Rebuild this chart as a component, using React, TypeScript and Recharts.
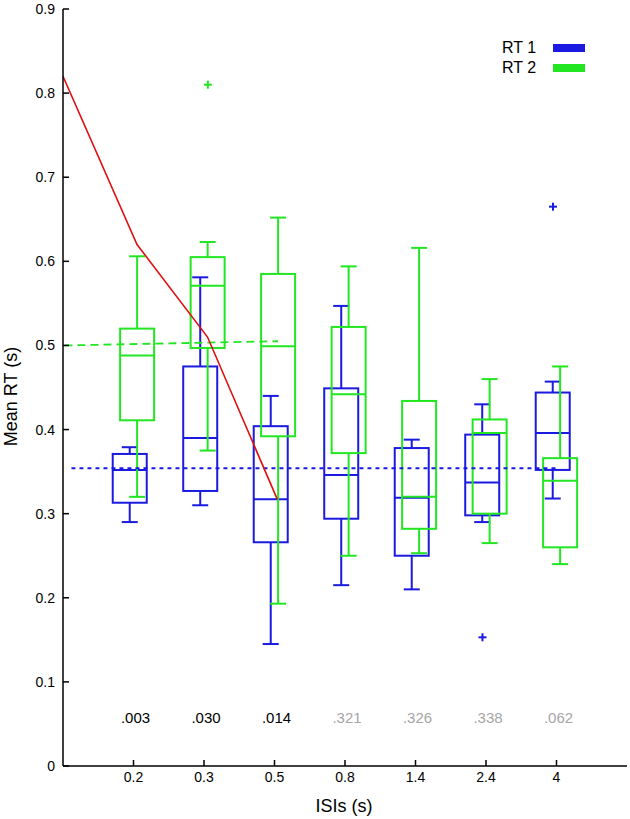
import React from "react";
import {
  ComposedChart,
  Bar,
  Line,
  Scatter,
  XAxis,
  YAxis,
  Legend,
  ReferenceLine,
} from "recharts";

// categories
const isiLabels = ["0.2", "0.3", "0.5", "0.8", "1.4", "2.4", "4"];
const positions = [1, 2, 3, 4, 5, 6, 7];
const yTicks = [0, 0.1, 0.2, 0.3, 0.4, 0.5, 0.6, 0.7, 0.8, 0.9];
const seriesNames = ["RT 1", "RT 2"];

// RT 1 boxes
const rt1Min = [0.29, 0.31, 0.145, 0.215, 0.21, 0.29, 0.318];
const rt1Q1 = [0.313, 0.327, 0.266, 0.294, 0.25, 0.298, 0.352];
const rt1Median = [0.352, 0.39, 0.317, 0.346, 0.319, 0.337, 0.396];
const rt1Q3 = [0.371, 0.475, 0.404, 0.449, 0.378, 0.394, 0.444];
const rt1Max = [0.379, 0.581, 0.44, 0.547, 0.388, 0.43, 0.457];

// RT 2 boxes
const rt2Min = [0.32, 0.375, 0.193, 0.25, 0.253, 0.265, 0.24];
const rt2Q1 = [0.411, 0.497, 0.392, 0.372, 0.282, 0.3, 0.26];
const rt2Median = [0.488, 0.571, 0.499, 0.442, 0.32, 0.396, 0.339];
const rt2Q3 = [0.52, 0.605, 0.585, 0.522, 0.434, 0.412, 0.366];
const rt2Max = [0.606, 0.623, 0.652, 0.594, 0.616, 0.46, 0.475];

// outliers (category position, value)
const rt1OutlierPos = [6, 7];
const rt1OutlierVal = [0.153, 0.665];
const rt2OutlierPos = [2];
const rt2OutlierVal = [0.81];

// p values under each pair
const pValues = [".003", ".030", ".014", ".321", ".326", ".338", ".062"];
const pSignificant = [true, true, true, false, false, false, false];

// red curve
const redX = [0, 1.05, 2.05, 3.04];
const redY = [0.82, 0.62, 0.51, 0.317];

// dashed reference levels
const rt1Level = 0.354;
const rt2LevelStart = 0.5;
const rt2LevelEnd = 0.505;

const BLUE = "#1a1ae0";
const GREEN = "#22e622";
const RED = "#e01010";
const GREY = "#a6a6a6";
const FONT = "'Liberation Sans', Arial, sans-serif";
const BLUE_SHIFT = -0.05;
const GREEN_SHIFT = 0.055;
const P_LEVEL = 0.058;

const rows = positions.map((p, i) => ({
  xb: p + BLUE_SHIFT,
  xg: p + GREEN_SHIFT,
  b: { min: rt1Min[i], q1: rt1Q1[i], med: rt1Median[i], q3: rt1Q3[i], max: rt1Max[i] },
  g: { min: rt2Min[i], q1: rt2Q1[i], med: rt2Median[i], q3: rt2Q3[i], max: rt2Max[i] },
}));

const redData = redX.map((x, i) => ({ x, y: redY[i] }));
const rt1Outliers = rt1OutlierPos.map((p, i) => ({ x: p + BLUE_SHIFT, y: rt1OutlierVal[i] }));
const rt2Outliers = rt2OutlierPos.map((p, i) => ({ x: p + GREEN_SHIFT, y: rt2OutlierVal[i] }));
const pData = positions.map((p, i) => ({ x: p, y: P_LEVEL, text: pValues[i], sig: pSignificant[i] }));

const boxRange = (key: "b" | "g") => (d: any) => (d && d[key] ? [d[key].q1, d[key].q3] : null);

// box + whiskers, scale taken from the bar's own q1..q3 extent
const makeBox = (color: string, key: "b" | "g") => (props: any) => {
  const { x, y, width, height, payload } = props;
  const s = payload && payload[key];
  if (!s) return <g />;
  const k = height / (s.q3 - s.q1);
  const py = (v: number) => y + (s.q3 - v) * k;
  const cx = x + width / 2;
  const cap = 8;
  return (
    <g stroke={color} strokeWidth={2} fill="none">
      <rect x={x} y={y} width={width} height={height} />
      <line x1={x} x2={x + width} y1={py(s.med)} y2={py(s.med)} />
      <line x1={cx} x2={cx} y1={y} y2={py(s.max)} />
      <line x1={cx - cap} x2={cx + cap} y1={py(s.max)} y2={py(s.max)} />
      <line x1={cx} x2={cx} y1={y + height} y2={py(s.min)} />
      <line x1={cx - cap} x2={cx + cap} y1={py(s.min)} y2={py(s.min)} />
    </g>
  );
};

const makePlus = (color: string) => (props: any) => {
  const { cx, cy } = props;
  return (
    <g stroke={color} strokeWidth={2}>
      <line x1={cx - 4} x2={cx + 4} y1={cy} y2={cy} />
      <line x1={cx} x2={cx} y1={cy - 4} y2={cy + 4} />
    </g>
  );
};

const renderPText = (props: any) => {
  const { cx, cy, payload } = props;
  return (
    <text
      x={cx + 2}
      y={cy}
      textAnchor="middle"
      dominantBaseline="central"
      fontFamily={FONT}
      fontSize={15}
      fill={payload.sig ? "#000" : GREY}
    >
      {payload.text}
    </text>
  );
};

const renderYTick = (props: any) => {
  const { x, y, payload } = props;
  const v = payload.value;
  return (
    <g>
      <line x1={x + 8} x2={x + 14} y1={y} y2={y} stroke="#000" strokeWidth={1.5} />
      <text x={x} y={y} textAnchor="end" dominantBaseline="central" fontFamily={FONT} fontSize={14} fill="#000">
        {v === 0 ? "0" : v.toFixed(1)}
      </text>
    </g>
  );
};

const renderXTick = (props: any) => {
  const { x, y, payload } = props;
  return (
    <g>
      <line x1={x} x2={x} y1={y - 8} y2={y - 14} stroke="#000" strokeWidth={1.5} />
      <text x={x} y={y + 8} textAnchor="middle" fontFamily={FONT} fontSize={14} fill="#000">
        {isiLabels[payload.value - 1]}
      </text>
    </g>
  );
};

const renderYLabel = (props: any) => {
  const vb = props.viewBox;
  const lx = vb.x + 17;
  const ly = vb.y + vb.height / 2 + 9;
  return (
    <text x={lx} y={ly} transform={`rotate(-90, ${lx}, ${ly})`} textAnchor="middle" fontFamily={FONT} fontSize={18} fill="#000">
      Mean RT (s)
    </text>
  );
};

const renderXLabel = (props: any) => {
  const vb = props.viewBox;
  return (
    <text x={vb.x + vb.width / 2 - 1} y={vb.y + 46} textAnchor="middle" fontFamily={FONT} fontSize={18} fill="#000">
      ISIs (s)
    </text>
  );
};

const legendColors = [BLUE, GREEN];

const renderLegend = () => (
  <div style={{ fontFamily: FONT, fontSize: 16, color: "#000" }}>
    {seriesNames.map((name, i) => (
      <div key={name} style={{ display: "flex", alignItems: "center", height: 20 }}>
        <span style={{ width: 51 }}>{name}</span>
        <span style={{ width: 32, height: 8, background: legendColors[i] }} />
      </div>
    ))}
  </div>
);

export default function App() {
  return (
    <div style={{ position: "absolute", left: 0, top: 0, background: "#fff" }}>
      <ComposedChart
        width={630}
        height={819}
        data={rows}
        margin={{ top: 9, right: 3, bottom: 23, left: 0 }}
      >
        <XAxis
          xAxisId="a"
          type="number"
          dataKey="x"
          domain={[0, 8]}
          ticks={positions}
          allowDataOverflow
          height={30}
          axisLine={{ stroke: "#000", strokeWidth: 1.5 }}
          tickLine={false}
          tick={renderXTick}
          label={{ value: "ISIs (s)", content: renderXLabel }}
        />
        <XAxis xAxisId="zb" type="number" dataKey="xb" domain={[0, 8]} height={0} hide />
        <XAxis xAxisId="zg" type="number" dataKey="xg" domain={[0, 8]} height={0} hide />
        <YAxis
          type="number"
          domain={[0, 0.9]}
          ticks={yTicks}
          width={63}
          allowDataOverflow
          axisLine={{ stroke: "#000", strokeWidth: 1.5 }}
          tickLine={false}
          tick={renderYTick}
          label={{ value: "Mean RT (s)", content: renderYLabel }}
        />

        <Bar
          xAxisId="zb"
          dataKey={boxRange("b")}
          barSize={34}
          shape={makeBox(BLUE, "b")}
          isAnimationActive={false}
        />
        <Bar
          xAxisId="zg"
          dataKey={boxRange("g")}
          barSize={34}
          shape={makeBox(GREEN, "g")}
          isAnimationActive={false}
        />

        <ReferenceLine
          xAxisId="a"
          segment={[{ x: 0.12, y: rt1Level }, { x: 7, y: rt1Level }]}
          stroke={BLUE}
          strokeWidth={1.8}
          strokeDasharray="4 4"
        />
        <ReferenceLine
          xAxisId="a"
          segment={[{ x: 0.02, y: rt2LevelStart }, { x: 3.05, y: rt2LevelEnd }]}
          stroke={GREEN}
          strokeWidth={1.8}
          strokeDasharray="8 5"
        />

        <Line
          xAxisId="a"
          data={redData}
          dataKey="y"
          stroke={RED}
          strokeWidth={1.6}
          dot={false}
          activeDot={false}
          isAnimationActive={false}
        />

        <Scatter xAxisId="a" data={rt1Outliers} dataKey="y" shape={makePlus(BLUE)} isAnimationActive={false} />
        <Scatter xAxisId="a" data={rt2Outliers} dataKey="y" shape={makePlus(GREEN)} isAnimationActive={false} />
        <Scatter xAxisId="a" data={pData} dataKey="y" shape={renderPText} isAnimationActive={false} />

        <Legend
          layout="vertical"
          align="center"
          verticalAlign="middle"
          content={renderLegend}
          wrapperStyle={{ top: 38, left: 502, width: 90 }}
        />
      </ComposedChart>
    </div>
  );
}
